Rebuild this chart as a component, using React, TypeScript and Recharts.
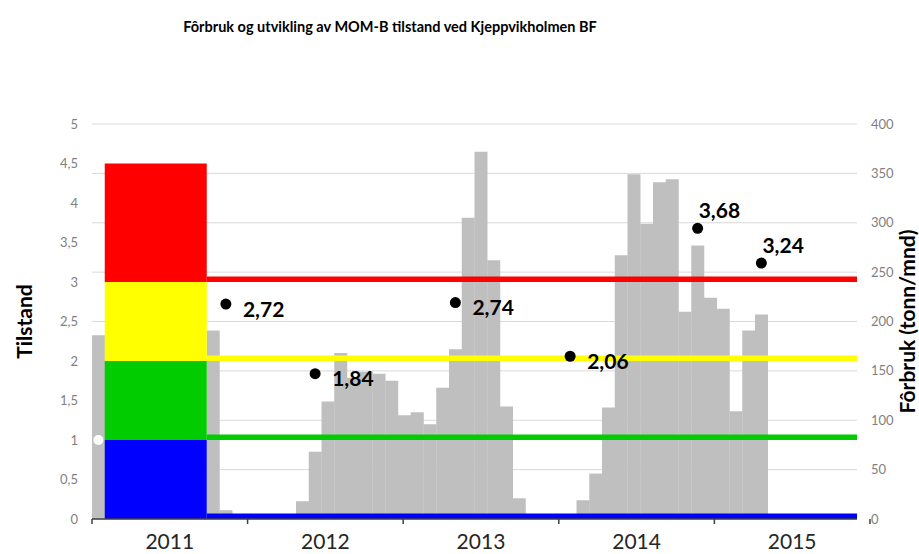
import React from "react";
import {
  Bar,
  CartesianGrid,
  ComposedChart,
  ReferenceArea,
  Scatter,
  XAxis,
  YAxis,
} from "recharts";

const years = [2011, 2012, 2013, 2014, 2015];
const monthNames = ["jan", "feb", "mar", "apr", "mai", "jun", "jul", "aug", "sep", "okt", "nov", "des"];
const months = years.flatMap((y) => monthNames.map((m) => `${m} ${String(y).slice(2)}`));

// fôrbruk (tonn/mnd) per month, null where nothing is shown
const forbruk = [
  186, null, null, null, null, null, null, null, null, 191, 9, 0,
  0, 0, 0, 0, 18, 68, 119, 168, 143, 149, 147, 140,
  105, 108, 96, 133, 172, 305, 372, 262, 114, 21, 0, 0,
  0, 0, 19, 46, 113, 267, 349, 299, 341, 344, 210, 277,
  224, 213, 109, 191, 207, null, null, null, null, null, null, null,
];

// MOM-B surveys
const surveyMonths = ["nov 11", "jun 12", "mai 13", "feb 14", "des 14", "mai 15"];
const surveyValues = [2.72, 1.84, 2.74, 2.06, 3.68, 3.24];

const startMonths = ["jan 11"];
const startValues = [1];

// condition zones (Tilstand 1-4)
const zoneBounds = [0, 1, 2, 3, 4.5];
const zoneColors = ["#0000FF", "#00CC00", "#FFFF00", "#FF0000"];
const zoneFrom = "feb 11";
const zoneTo = "sep 11";
const lineFrom = "okt 11";
const lineTo = "des 15";

const leftTicks = [0, 0.5, 1, 1.5, 2, 2.5, 3, 3.5, 4, 4.5, 5];
const rightTicks = [0, 50, 100, 150, 200, 250, 300, 350, 400];
const yearTicks = [0, 6, 12, 18, 24, 30, 36, 42, 48, 54, 60];

const data = months.map((month, i) => ({ month, forbruk: forbruk[i] }));
const surveys = surveyMonths.map((month, i) => ({ month, tilstand: surveyValues[i] }));
const starts = startMonths.map((month, i) => ({ month, tilstand: startValues[i] }));

const FONT = "Lato, 'Open Sans', sans-serif";
const LINE_W = 0.07;

const comma = (v: number) => String(v).replace(".", ",");

const YearTick = (props: any) => {
  const { x, y, payload } = props;
  const v = payload.value as number;
  if (v % 12 === 0) {
    return <line x1={x} x2={x} y1={y - 8} y2={y - 3} stroke="#404040" strokeWidth={1.5} />;
  }
  return (
    <text x={x} y={y + 22} textAnchor="middle" fontFamily={FONT} fontSize={21} fill="#262626">
      {years[Math.floor(v / 12)]}
    </text>
  );
};

const SurveyDot = (props: any) => {
  const { cx, cy, payload } = props;
  const above = payload.tilstand > 3;
  return (
    <g>
      <circle cx={cx} cy={cy} r={5.5} fill="#000" />
      <text
        x={above ? cx + 1 : cx + 17}
        y={above ? cy - 10.5 : cy + 12.5}
        fontFamily={FONT}
        fontWeight="bold"
        fontSize={21}
        fill="#000"
      >
        {payload.tilstand.toFixed(2).replace(".", ",")}
      </text>
    </g>
  );
};

const StartDot = (props: any) => <circle cx={props.cx} cy={props.cy} r={5} fill="#fff" />;

const AxisTitle = ({ viewBox, value, dx }: any) => {
  const cx = viewBox.x + dx;
  const cy = viewBox.y + viewBox.height / 2;
  return (
    <text
      x={cx}
      y={cy}
      transform={`rotate(-90 ${cx} ${cy})`}
      textAnchor="middle"
      dominantBaseline="central"
      fontFamily={FONT}
      fontWeight="bold"
      fontSize={21}
      fill="#000"
    >
      {value}
    </text>
  );
};

export default function App() {
  return (
    <div style={{ position: "absolute", left: 0, top: 0, width: 919, height: 554, background: "#fff" }}>
      <div
        style={{
          position: "absolute",
          left: 0,
          width: 780,
          top: 18,
          textAlign: "center",
          fontFamily: FONT,
          fontWeight: "bold",
          fontSize: 14.5,
          color: "#000",
        }}
      >
        Fôrbruk og utvikling av MOM-B tilstand ved Kjeppvikholmen BF
      </div>
      <ComposedChart
        width={919}
        height={554}
        data={data}
        margin={{ top: 124, right: 0, bottom: 0, left: 0 }}
        barCategoryGap={0}
        barGap={0}
      >
        <CartesianGrid yAxisId="r" vertical={false} stroke="#d9d9d9" />
        <XAxis
          xAxisId="yr"
          type="number"
          domain={[0, 60]}
          ticks={yearTicks}
          allowDataOverflow
          height={35}
          tickLine={false}
          tickSize={6}
          tickMargin={2}
          axisLine={{ stroke: "#404040", strokeWidth: 1.5 }}
          tick={<YearTick />}
          interval={0}
        />
        <XAxis xAxisId="m" dataKey="month" hide height={0} allowDuplicatedCategory={false} />
        <YAxis
          yAxisId="l"
          orientation="left"
          width={92}
          domain={[0, 5]}
          ticks={leftTicks}
          tickFormatter={comma}
          axisLine={false}
          tickLine={false}
          tickSize={6}
          tickMargin={8}
          interval={0}
          tick={{ fill: "#7f7f7f", fontSize: 13, fontFamily: FONT }}
          label={<AxisTitle value="Tilstand" dx={23} />}
        />
        <YAxis
          yAxisId="r"
          orientation="right"
          width={62}
          domain={[0, 400]}
          ticks={rightTicks}
          axisLine={false}
          tickLine={false}
          tickSize={6}
          tickMargin={8}
          interval={0}
          tick={{ fill: "#7f7f7f", fontSize: 13, fontFamily: FONT, textAnchor: "start" }}
          label={<AxisTitle value="Fôrbruk (tonn/mnd)" dx={49} />}
        />
        <Bar
          xAxisId="m"
          yAxisId="r"
          dataKey="forbruk"
          fill="#bfbfbf"
          isAnimationActive={false}
        />
        {zoneColors.map((c, i) => (
          <ReferenceArea
            key={`z${i}`}
            xAxisId="m"
            yAxisId="l"
            x1={zoneFrom}
            x2={zoneTo}
            y1={zoneBounds[i]}
            y2={zoneBounds[i + 1]}
            fill={c}
            fillOpacity={1}
            stroke="none"
            zIndex={400}
          />
        ))}
        {zoneColors.map((c, i) => (
          <ReferenceArea
            key={`l${i}`}
            xAxisId="m"
            yAxisId="l"
            x1={lineFrom}
            x2={lineTo}
            y1={zoneBounds[i]}
            y2={zoneBounds[i] + LINE_W}
            fill={c}
            fillOpacity={1}
            stroke="none"
            zIndex={400}
          />
        ))}
        <Scatter
          xAxisId="m"
          yAxisId="l"
          data={starts}
          dataKey="tilstand"
          shape={<StartDot />}
          isAnimationActive={false}
        />
        <Scatter
          xAxisId="m"
          yAxisId="l"
          data={surveys}
          dataKey="tilstand"
          shape={<SurveyDot />}
          isAnimationActive={false}
        />
      </ComposedChart>
    </div>
  );
}
